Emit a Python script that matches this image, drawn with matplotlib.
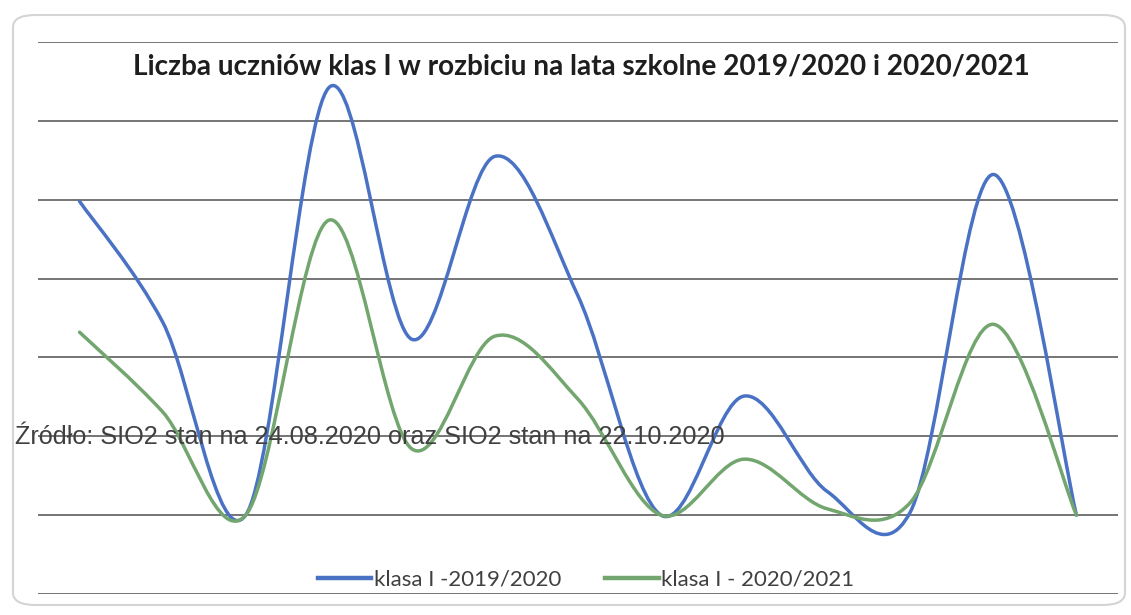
import matplotlib
matplotlib.use('Agg')
import matplotlib.pyplot as plt
from matplotlib.path import Path
from matplotlib.patches import PathPatch, FancyBboxPatch
from matplotlib.lines import Line2D
import numpy as np

title = 'Liczba uczniów klas I w rozbiciu na lata szkolne 2019/2020 i 2020/2021'
source = 'Źródło: SIO2 stan na 24.08.2020 oraz SIO2 stan na 22.10.2020'

# 13 categories (no labels shown on the original axis)
categories = list(range(13))
klasa_2019 = [398, 245, 0, 542, 223, 455, 278, 0, 151, 30, 4, 432, 0]
klasa_2020 = [232, 131, 0, 374, 84, 227, 147, 0, 71, 8, 16, 242, 0]
series_names = ['klasa I -2019/2020', 'klasa I - 2020/2021']
colors = ['#4a72c4', '#72a66e']


def smooth_path(x, y):
    # Excel-like smoothed line: cubic Bezier segments with Catmull-Rom tangents
    pts = np.column_stack([x, y]).astype(float)
    n = len(pts)
    verts = [pts[0]]
    codes = [Path.MOVETO]
    for i in range(n - 1):
        p0 = pts[max(i - 1, 0)]
        p1 = pts[i]
        p2 = pts[i + 1]
        p3 = pts[min(i + 2, n - 1)]
        c1 = p1 + (p2 - p0) / 6.0
        c2 = p2 - (p3 - p1) / 6.0
        verts += [c1, c2, p2]
        codes += [Path.CURVE4] * 3
    return Path(verts, codes)


def main():
    fig = plt.figure(figsize=(11.31, 6.15), dpi=100)
    fig.patch.set_facecolor('white')

    # chart area border
    border = FancyBboxPatch((13 / 1131, 10 / 615), 1112 / 1131, 590 / 615,
                            boxstyle='round,pad=0,rounding_size=0.02',
                            transform=fig.transFigure, facecolor='none',
                            edgecolor='#d4d4d4', lw=1.5)
    fig.patches.append(border)

    ax = fig.add_axes([38 / 1131, 21 / 615, 1080 / 1131, 552 / 615])
    ax.set_xlim(-0.5, 12.5)
    ax.set_ylim(-100, 600)
    ax.set_yticks(np.arange(-100, 601, 100))
    ax.grid(True, axis='y', color='#5e5e5e', lw=1.2)
    ax.set_axisbelow(True)
    ax.tick_params(left=False, bottom=False, labelleft=False, labelbottom=False)
    for s in ax.spines.values():
        s.set_visible(False)
    ax.patch.set_alpha(0)

    for vals, c in zip([klasa_2019, klasa_2020], colors):
        patch = PathPatch(smooth_path(categories, vals), facecolor='none',
                          edgecolor=c, lw=2.5, capstyle='round', joinstyle='round')
        ax.add_patch(patch)

    fig.text(581 / 1131, 1 - 66 / 615, title, ha='center', va='center',
             fontsize=20.2, fontweight='bold', family='Lato', color='#1e1e1e')

    fig.text(15 / 1131, 1 - 437 / 615, source, ha='left', va='center',
             fontsize=18.2, family='Liberation Sans', color='#404040')

    handles = [Line2D([], [], color=c, lw=3.2) for c in colors]
    fig.legend(handles, series_names, loc='center', ncol=2, frameon=False,
               bbox_to_anchor=(586 / 1131, 1 - 580 / 615),
               prop={'family': 'Lato', 'size': 16}, labelcolor='#404040',
               handlelength=2.4, handletextpad=0.1, columnspacing=2.0)

    fig.savefig('out.png', dpi=100)


if __name__ == '__main__':
    main()
